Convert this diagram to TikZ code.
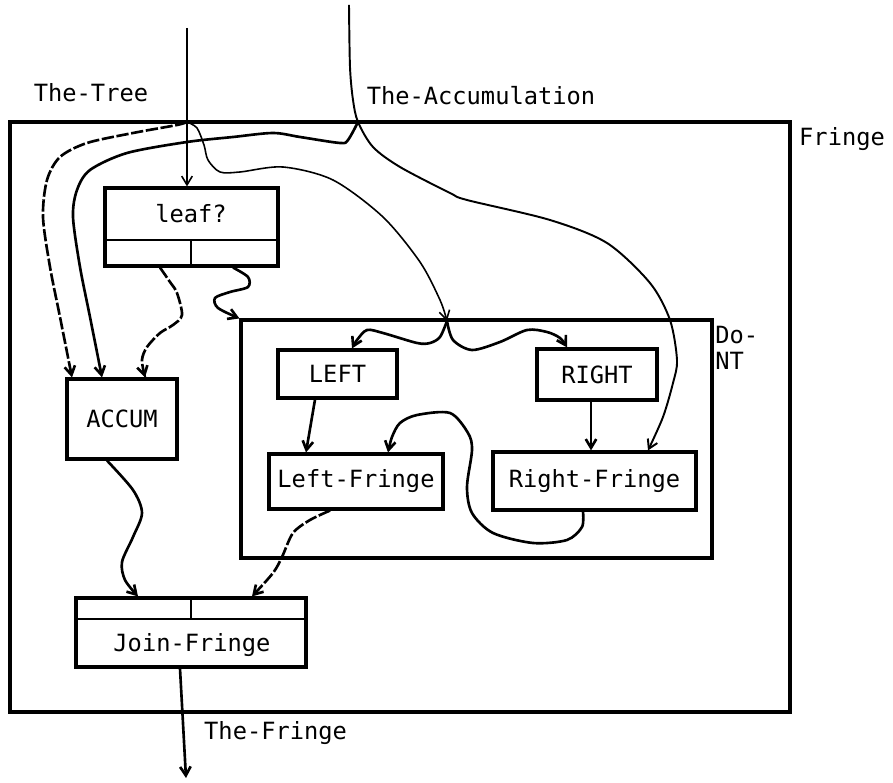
\documentclass[tikz,border=0pt]{standalone}
\usepackage{fontspec}
\usepackage{xcolor}
\usepackage{tikz}
\usetikzlibrary{arrows.meta}
\newfontfamily\plotfont{DejaVu Sans Mono}

\begin{document}
\begin{tikzpicture}[x=0.02cm, y=-0.02cm,
    font=\plotfont\fontsize{13.5}{14.7}\selectfont,
    blk/.style={draw, line width=1.8pt, inner sep=0pt},
    wire/.style={line width=1.5pt, -{Straight Barb[length=5pt,width=6pt]}},
    thinwire/.style={line width=0.9pt, -{Straight Barb[length=5pt,width=6pt]}},
    dashwire/.style={wire, dash pattern=on 7pt off 1.5pt}]

    \useasboundingbox (0,0) rectangle (893,783);

    \node[blk, line width=2.4pt, minimum width=15.6cm, minimum height=11.8cm] (fringe) at (400,417) {};
    \node[anchor=west] (fringelbl) at (793,139) {Fringe};

    \node[blk, minimum width=9.42cm, minimum height=4.76cm] (dont) at (476.5,439) {};
    \node[anchor=north west, align=left, inner sep=0pt] (dontlbl) at (715,326) {Do-\\NT};

    \node[blk, minimum width=3.46cm, minimum height=1.56cm] (leaf) at (191.5,227) {};
    \node (leaftxt) at (191,214) {leaf?};
    \draw[line width=1.4pt] (leaf.west |- 0,240) -- (leaf.east |- 0,240);
    \draw[line width=1.4pt] (191,240) -- (leaf.south -| 191,0);

    \node[blk, minimum width=2.2cm, minimum height=1.6cm] (accum) at (122,419) {ACCUM};
    \node[blk, minimum width=2.38cm, minimum height=0.96cm] (left) at (337.5,374) {LEFT};
    \node[blk, minimum width=2.4cm, minimum height=1.02cm] (right) at (597,374.5) {RIGHT};
    \node[blk, minimum width=3.48cm, minimum height=1.1cm] (lfringe) at (356,481.5) {Left-Fringe};
    \node[blk, minimum width=4.06cm, minimum height=1.16cm] (rfringe) at (594.5,481) {Right-Fringe};

    \node[blk, minimum width=4.6cm, minimum height=1.38cm] (join) at (191,632.5) {};
    \node (jointxt) at (192,645) {Join-Fringe};
    \draw[line width=1.4pt] (join.west |- 0,619) -- (join.east |- 0,619);
    \draw[line width=1.4pt] (join.north -| 191,0) -- (191,619);

    \node (treelbl) at (91,93) {The-Tree};
    \node (acclbl) at (481,96) {The-Accumulation};
    \node[anchor=west] (outlbl) at (198,733) {The-Fringe};

    \coordinate (treein) at (187,28);
    \coordinate (treej) at (187,122);
    \coordinate (accin) at (349,5);
    \coordinate (accj) at (358,122);
    \coordinate (dotin) at (447,321);
    \coordinate (fringeout) at (186,778);

    \draw[thinwire] (treein) -- (treein |- leaf.north);

    \draw[dashwire] plot[smooth] coordinates {(treej) (177,125) (133,133) (87,143) (60,157) (47,180) (43,217) (50,267) (60,317) (accum.north -| 72,0)};

    \draw[wire] plot[smooth] coordinates {(accj) (348,140) (340,143) (300,137) (273,133) (233,137) (187,142) (127,153) (90,170) (77,190) (73,217) (80,267) (90,317) (accum.north -| 102,0)};

    \draw[thinwire] plot[smooth] coordinates {(treej) (197,128) (204,145) (208,160) (220,172) (240,172) (283,167) (333,180) (383,217) (420,262) (440,300) (dotin)};

    \draw[dashwire] plot[smooth] coordinates {(leaf.south -| 160,0) (170,282) (177,293) (182,315) (173,325) (160,333) (147,347) (142,360) (accum.north -| 145,0)};

    \draw[wire] plot[smooth] coordinates {(leaf.south -| 233,0) (248,277) (248,287) (230,292) (215,298) (218,308) (dont.north west)};

    \draw[wire] plot[smooth] coordinates {(dotin) (440,337) (430,343) (417,343) (383,333) (367,330) (357,340) (left.north -| 352,0)};

    \draw[wire] plot[smooth] coordinates {(dotin) (453,340) (472,350) (500,342) (527,330) (547,332) (560,338) (right.north -| 567,0)};

    \draw[wire] (left.south -| 315,0) -- (lfringe.north -| 306,0);
    \draw[wire] (right.south -| 591,0) -- (rfringe.north -| 591,0);

    \draw[wire] plot[smooth] coordinates {(rfringe.south -| 583,0) (582,527) (567,540) (533,543) (493,533) (472,513) (467,487) (472,450) (468,433) (450,413) (417,415) (400,423) (392,437) (lfringe.north -| 388,0)};

    \draw[thinwire, line width=1.1pt] plot[smooth] coordinates {(accin) (350,67) (353,100) (accj) (373,147) (400,167) (450,193) (467,200) (550,220) (607,243) (650,283) (670,320) (677,360) (673,383) (663,417) (rfringe.north -| 648,0)};

    \draw[wire] plot[smooth] coordinates {(accum.south -| 107,0) (133,490) (142,513) (133,537) (122,562) (125,580) (join.north -| 138,0)};

    \draw[dashwire] plot[smooth] coordinates {(lfringe.south -| 330,0) (310,520) (293,533) (282,557) (273,573) (join.north -| 252,0)};

    \draw[wire] (join.south -| 180,0) -- (fringeout);
\end{tikzpicture}
\end{document}
